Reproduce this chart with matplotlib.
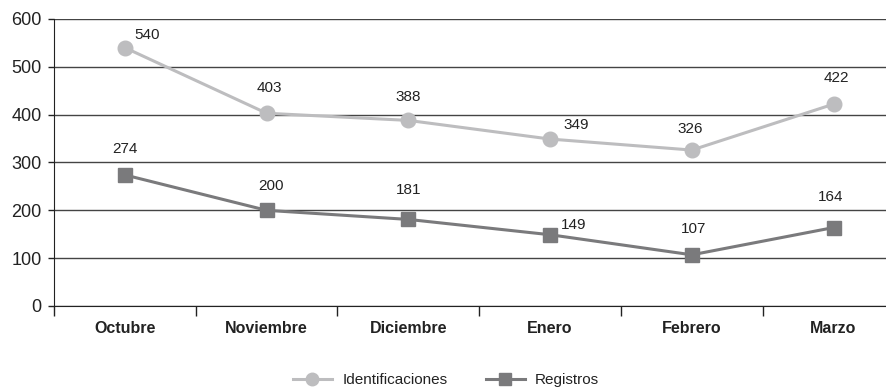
import matplotlib.pyplot as plt
from matplotlib.lines import Line2D

plt.rcParams['font.family'] = ['Liberation Sans', 'DejaVu Sans']

meses = ['Octubre', 'Noviembre', 'Diciembre', 'Enero', 'Febrero', 'Marzo']
identificaciones = [540, 403, 388, 349, 326, 422]
registros = [274, 200, 181, 149, 107, 164]

# desplazamiento de las etiquetas (px)
off_ident = [(22, 13), (3, 25), (0, 23), (26, 14), (-2, 21), (3, 26)]
off_reg = [(0, 26), (4, 24), (0, 29), (24, 10), (2, 26), (-3, 31)]

c_ident = '#bdbdbf'
c_reg = '#7a7a7c'
c_text = '#222222'

fig = plt.figure(figsize=(8.86, 3.88), dpi=100)
ax = fig.add_axes([54 / 886, 1 - 306 / 388, 1 - 54 / 886, (306 - 19) / 388])

x = list(range(len(meses)))
ax.plot(x, identificaciones, color=c_ident, lw=2.2, marker='o', ms=10.5, zorder=3)
ax.plot(x, registros, color=c_reg, lw=2.2, marker='s', ms=9.5, zorder=3)

for i, v in enumerate(identificaciones):
    ax.annotate(str(v), (i, v), xytext=(off_ident[i][0] * 0.72, off_ident[i][1] * 0.72),
                textcoords='offset points', ha='center', va='center', fontsize=11, color=c_text)
for i, v in enumerate(registros):
    ax.annotate(str(v), (i, v), xytext=(off_reg[i][0] * 0.72, off_reg[i][1] * 0.72),
                textcoords='offset points', ha='center', va='center', fontsize=11, color=c_text)

ax.set_ylim(0, 600)
ax.set_yticks(range(0, 601, 100))
ax.set_xlim(-0.5, 5.37)
ax.grid(axis='y', color='#444444', lw=1.0)
ax.set_axisbelow(True)

ax.set_xticks([i + 0.5 for i in range(-1, 5)])
ax.set_xticklabels([])
ax.set_xticks(x, minor=True)
ax.set_xticklabels(meses, minor=True, fontweight='bold', fontsize=11.5, color=c_text)
ax.tick_params(axis='x', which='major', length=7, width=1, color='#222222', direction='out')
ax.tick_params(axis='x', which='minor', length=0, pad=11)
ax.tick_params(axis='y', length=4, width=1, color='#222222', labelsize=13, labelcolor=c_text, pad=5)

for s in ['top', 'right']:
    ax.spines[s].set_visible(False)
ax.spines['left'].set_color('#222222')
ax.spines['bottom'].set_color('#222222')

handles = [
    Line2D([], [], color=c_ident, lw=2.2, marker='o', ms=9),
    Line2D([], [], color=c_reg, lw=2.2, marker='s', ms=8.5),
]
fig.legend(handles, ['Identificaciones', 'Registros'], loc='center', bbox_to_anchor=(446 / 886, 1 - 380 / 388),
           ncol=2, frameon=False, fontsize=11, handlelength=2.6, columnspacing=2.5, handletextpad=0.65,
           labelcolor=c_text, borderpad=0.2)

fig.savefig('out.png', dpi=100)
